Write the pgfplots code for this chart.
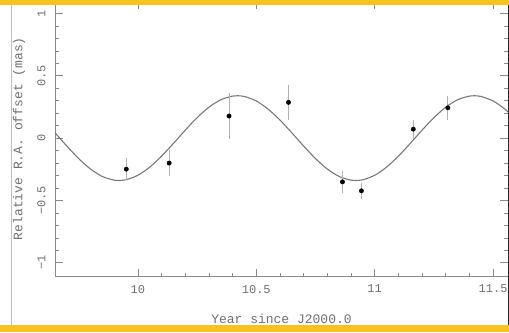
\documentclass[border=0pt]{standalone}
\usepackage{pgfplots}
\pgfplotsset{compat=1.18}
\usepackage{fontspec}
\setmainfont{Liberation Mono}
\definecolor{band}{HTML}{F9C31F}
\definecolor{txt}{HTML}{707070}
\definecolor{ax}{HTML}{8A8A8A}
\begin{document}
\begin{tikzpicture}[x=1bp,y=1bp]
\path[use as bounding box] (0,0) rectangle (509,332);
\fill[white] (0,0) rectangle (509,332);
\begin{axis}[
  at={(55bp,55.5bp)}, anchor=south west,
  scale only axis, width=453bp, height=275.5bp,
  xmin=9.65, xmax=11.563, ymin=-1.11, ymax=1.10,
  xtick={10,10.5,11,11.5}, ytick={-1,-0.5,0,0.5,1},
  xticklabels={10,10.5,11,11.5},
  yticklabels={−1,−0.5,0,0.5,1},
  minor x tick num=4, minor y tick num=4,
  tick align=inside, major tick length=8bp, minor tick length=4bp,
  every tick/.style={ax, line width=0.6bp},
  axis line style={ax, line width=0.8bp},
  ticklabel style={font=\fontsize{12bp}{14bp}\selectfont, text=txt},
  xticklabel shift=5bp,
  yticklabel style={rotate=90, anchor=south},
  yticklabel shift=6bp,
  label style={font=\fontsize{13bp}{15bp}\selectfont, text=txt},
  xlabel={Year since J2000.0},
  ylabel={Relative R.A. offset (mas)},
  xlabel style={at={(axis description cs:0.5,0)}, anchor=center, yshift=-42.5bp},
  ylabel style={at={(axis description cs:-0.0795,0.5)}, anchor=center, rotate=0},
  clip=true,
]
\addplot[color=gray!95!black, line width=1.1bp, smooth] coordinates {
(9.60,0.1448)(9.65,0.0426)(9.70,-0.0637)(9.75,-0.1638)(9.80,-0.2479)(9.85,-0.3076)(9.90,-0.3373)(9.92,-0.3400)
(9.95,-0.3340)(10.00,-0.2979)(10.05,-0.2327)(10.10,-0.1448)(10.15,-0.0426)(10.20,0.0637)
(10.25,0.1638)(10.30,0.2479)(10.35,0.3076)(10.40,0.3373)(10.42,0.3400)(10.45,0.3340)(10.50,0.2979)
(10.55,0.2327)(10.60,0.1448)(10.65,0.0426)(10.70,-0.0637)(10.75,-0.1638)(10.80,-0.2479)
(10.85,-0.3076)(10.90,-0.3373)(10.92,-0.3400)(10.95,-0.3340)(11.00,-0.2979)(11.05,-0.2327)
(11.10,-0.1448)(11.15,-0.0426)(11.20,0.0637)(11.25,0.1638)(11.30,0.2479)(11.35,0.3076)
(11.40,0.3373)(11.42,0.3400)(11.45,0.3340)(11.50,0.2979)(11.55,0.2327)(11.60,0.1448)
};
\addplot[only marks, mark=*, mark size=2.2bp, color=black,
  error bars/.cd, y dir=both, y explicit,
  error bar style={color=black!30, line width=0.9bp}, error mark=none]
  table[x=x, y=y, y error=e] {
x y e
9.951 -0.249 0.090
10.132 -0.200 0.105
10.385 0.177 0.185
10.636 0.287 0.140
10.864 -0.351 0.090
10.944 -0.423 0.067
11.163 0.072 0.075
11.309 0.243 0.095
};
\end{axis}
\draw[black!25, line width=0.9bp] (11,0) -- (11,332);
\fill[black!85] (507.5,0) rectangle (509,332);
\fill[band] (0,327) rectangle (509,332);
\fill[band] (0,0) rectangle (509,7);
\end{tikzpicture}
\end{document}
